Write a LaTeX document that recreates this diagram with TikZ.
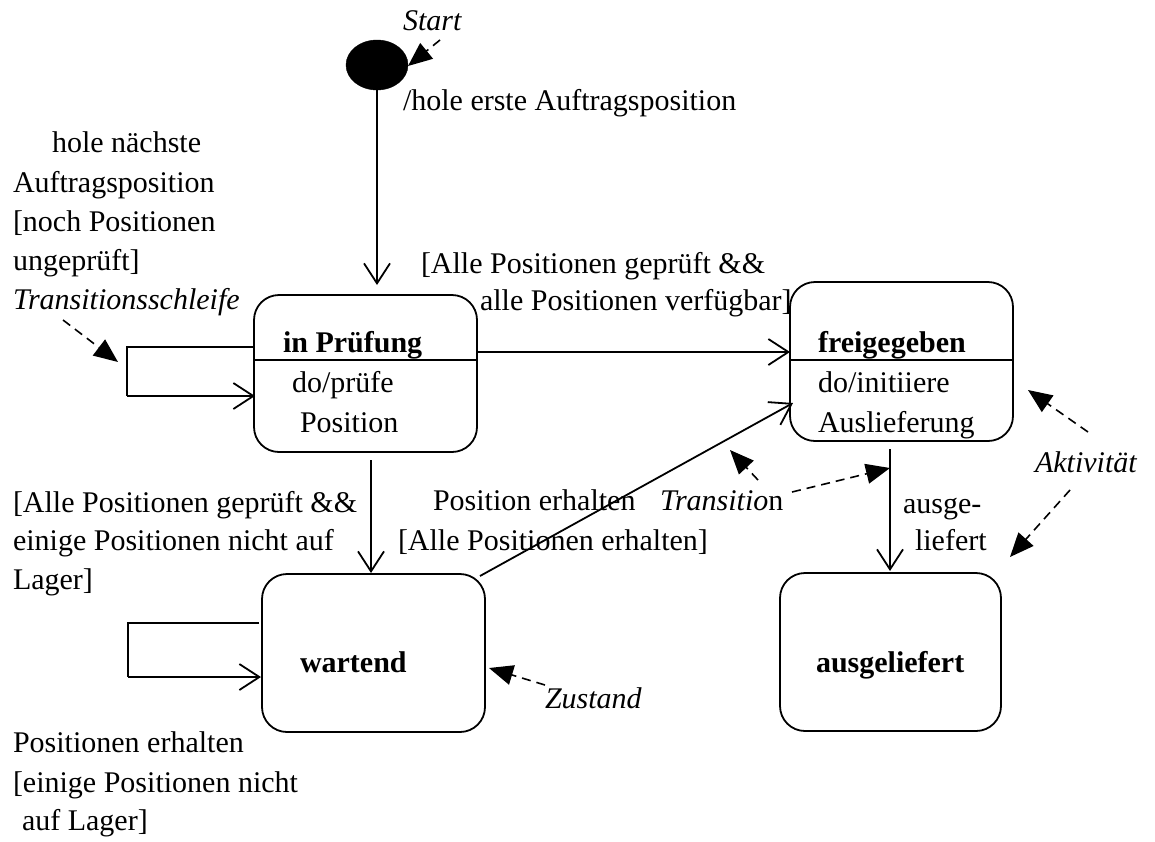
\documentclass[tikz,border=0pt]{standalone}
\usepackage{fontspec}
\setmainfont{Liberation Serif}
\usetikzlibrary{arrows.meta,shapes.geometric}

\begin{document}
\begin{tikzpicture}[x=1pt,y=-1pt,
  every node/.style={inner sep=0pt, outer sep=0pt, font=\fontsize{30}{39}\selectfont},
  lbl/.style={anchor=base west},
  statebox/.style={draw, line width=1.8pt, rounded corners=25pt, anchor=north west},
  trans/.style={draw, line width=1.8pt, -{Straight Barb[length=20pt,width=26pt,line width=1.8pt]}},
  loopline/.style={draw, line width=1.8pt},
  note/.style={draw, line width=1.6pt, dash pattern=on 9pt off 6pt, -{Triangle[length=24pt,width=20pt]}}
]
\useasboundingbox (0,0) rectangle (1155,841);

% initial state
\node[draw, fill=black, ellipse, minimum width=62pt, minimum height=50pt] (start) at (377,65) {};

% states
\node[statebox, minimum width=223pt, minimum height=157pt] (pr) at (254,295) {};
\node[statebox, minimum width=223pt, minimum height=159pt] (fr) at (790,282) {};
\node[statebox, minimum width=223pt, minimum height=158pt] (wa) at (262,574) {};
\node[statebox, minimum width=221pt, minimum height=158pt] (au) at (780,573) {};

% compartment dividers
\coordinate (prDL) at (254,360); \coordinate (prDR) at (478,360);
\coordinate (frDL) at (790,360); \coordinate (frDR) at (1013,360);
\draw[line width=1.8pt] (prDL) -- (prDR);
\draw[line width=1.8pt] (frDL) -- (frDR);

% state texts
\node[lbl] (prT) at (283,352) {\bfseries in Prüfung};
\node[lbl] (prA) at (292,392) {do/prüfe};
\node[lbl] (prB) at (300,432) {Position};
\node[lbl] (frT) at (818,352) {\bfseries freigegeben};
\node[lbl] (frA) at (818,392) {do/initiiere};
\node[lbl] (frB) at (818,432) {Auslieferung};
\node[lbl] (waT) at (300,672) {\bfseries wartend};
\node[lbl] (auT) at (816,672) {\bfseries ausgeliefert};

% transition end points
\coordinate (prIn) at (377,285);
\coordinate (prOutR) at (477,352);
\coordinate (frInL) at (790,352);
\coordinate (prOutB) at (371,460);
\coordinate (waInT) at (371,573);
\coordinate (waOut) at (480,576);
\coordinate (frInB) at (793,403);
\coordinate (frOutB) at (890,449);
\coordinate (auIn) at (890,571);

\draw[trans] (start.south) -- (prIn);
\draw[trans] (prOutR) -- (frInL);
\draw[trans] (prOutB) -- (waInT);
\draw[trans] (waOut) -- (frInB);
\draw[trans] (frOutB) -- (auIn);

% self transitions
\coordinate (prLa) at (254,347); \coordinate (prLb) at (127,347);
\coordinate (prLc) at (127,396); \coordinate (prLd) at (255,396);
\draw[loopline] (prLa) -- (prLb) -- (prLc);
\draw[trans] (prLc) -- (prLd);
\coordinate (waLa) at (259,623); \coordinate (waLb) at (128,623);
\coordinate (waLc) at (128,677); \coordinate (waLd) at (261,677);
\draw[loopline] (waLa) -- (waLb) -- (waLc);
\draw[trans] (waLc) -- (waLd);

% transition labels
\node[lbl] (t2) at (403,110) {/hole erste Auftragsposition};
\node[lbl] (l1) at (52,152) {hole nächste};
\node[lbl] (l2) at (13,192) {Auftragsposition};
\node[lbl] (l3) at (13,231) {[noch Positionen};
\node[lbl] (l4) at (13,270) {ungeprüft]};
\node[lbl] (g1) at (421,273) {[Alle Positionen geprüft \&\&};
\node[lbl] (g2) at (480,310) {alle Positionen verfügbar]};
\node[lbl] (w1) at (13,512) {[Alle Positionen geprüft \&\&};
\node[lbl] (w2) at (13,550) {einige Positionen nicht auf};
\node[lbl] (w3) at (13,589) {Lager]};
\node[lbl] (e1) at (433,510) {Position erhalten};
\node[lbl] (e2) at (398,550) {[Alle Positionen erhalten]};
\node[lbl] (a1) at (903,513) {ausge-};
\node[lbl] (a2) at (915,550) {liefert};
\node[lbl] (b1) at (13,752) {Positionen erhalten};
\node[lbl] (b2) at (13,792) {[einige Positionen nicht};
\node[lbl] (b3) at (22,830) {auf Lager]};

% annotations
\node[lbl] (nStart) at (403,30) {\itshape Start};
\node[lbl] (nLoop) at (13,309) {\itshape Transitionsschleife};
\node[lbl] (nTrans) at (660,510) {\textit{Transitio}n};
\node[lbl] (nAkt) at (1035,472) {\itshape Aktivität};
\node[lbl] (nZust) at (545,708) {\itshape Zustand};

\coordinate (sT) at (440,40);   \coordinate (sH) at (408,66);
\coordinate (lT) at (63,320);   \coordinate (lH) at (118,362);
\coordinate (tT1) at (758,480); \coordinate (tH1) at (730,450);
\coordinate (tT2) at (792,492); \coordinate (tH2) at (890,468);
\coordinate (aT1) at (1088,432); \coordinate (aH1) at (1028,390);
\coordinate (aT2) at (1070,490); \coordinate (aH2) at (1010,557);
\coordinate (zT) at (545,685);  \coordinate (zH) at (489,668);

\draw[note] (sT) -- (sH);
\draw[note] (lT) -- (lH);
\draw[note] (tT1) -- (tH1);
\draw[note] (tT2) -- (tH2);
\draw[note] (aT1) -- (aH1);
\draw[note] (aT2) -- (aH2);
\draw[note] (zT) -- (zH);
\end{tikzpicture}
\end{document}
